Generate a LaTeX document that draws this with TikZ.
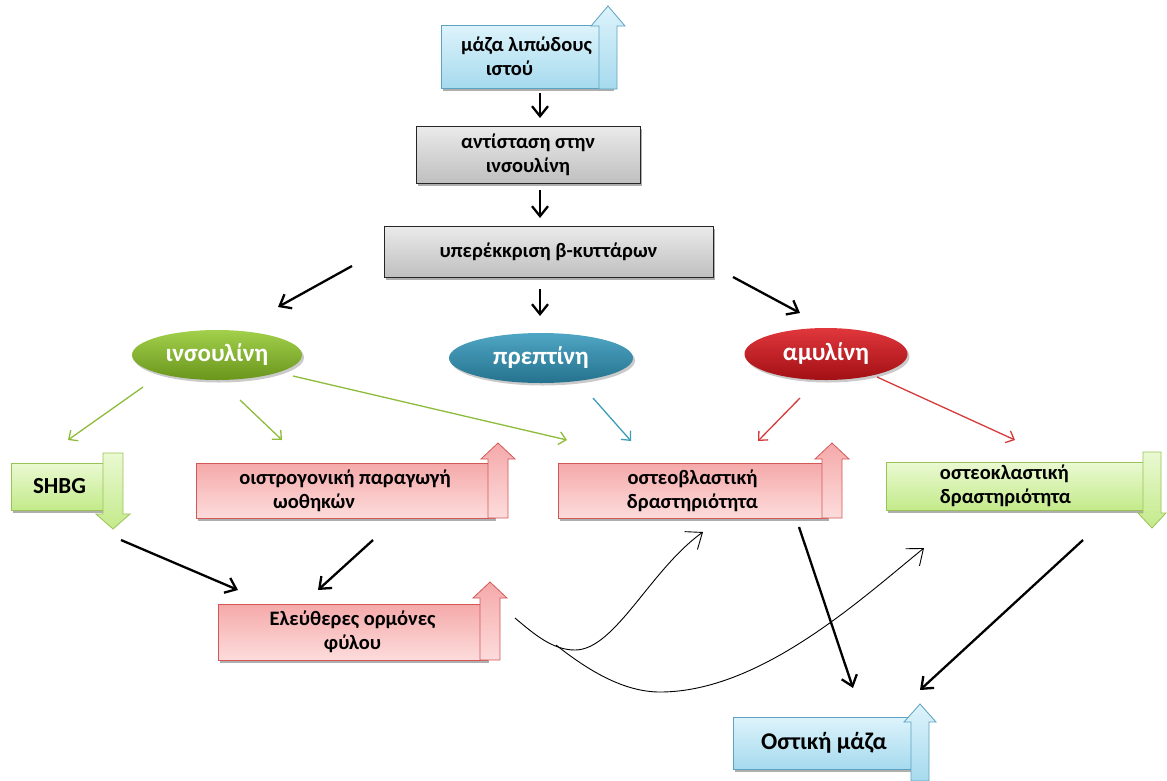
\documentclass[tikz,border=0pt]{standalone}
\usepackage{fontspec}
\setmainfont{Carlito}
\usetikzlibrary{arrows.meta,shadows,shapes.geometric,calc}

\definecolor{bluetop}{HTML}{DDF3FB}
\definecolor{bluebot}{HTML}{A6DAEE}
\definecolor{blueedge}{HTML}{5BA3C0}
\definecolor{pinktop}{HTML}{F5A9A9}
\definecolor{pinkbot}{HTML}{FDDCDC}
\definecolor{pinkedge}{HTML}{D25858}
\definecolor{greentop}{HTML}{EAF9D2}
\definecolor{greenbot}{HTML}{C3EA8A}
\definecolor{greenedge}{HTML}{98C455}
\definecolor{insgreen}{HTML}{7CB020}
\definecolor{insgreentop}{HTML}{A2D04C}
\definecolor{tealc}{HTML}{2B86A6}
\definecolor{tealtop}{HTML}{4FA6C4}
\definecolor{redc}{HTML}{BE1218}
\definecolor{redtop}{HTML}{E0373C}
\definecolor{arrgreen}{HTML}{8DBB3A}
\definecolor{arrteal}{HTML}{3E9DB8}
\definecolor{arrred}{HTML}{D63A3A}

\tikzset{
  boxbase/.style={rectangle, draw, line width=0.8pt, align=center, inner sep=0pt,
    font=\bfseries\fontsize{20.5}{24}\selectfont,
    drop shadow={shadow xshift=2pt, shadow yshift=-2.5pt, opacity=0.45, fill=black!70}},
  bluebox/.style={boxbase, top color=bluetop, bottom color=bluebot, draw=blueedge},
  graybox/.style={boxbase, top color=white!92!black, bottom color=black!25, draw=black!85},
  pinkbox/.style={boxbase, top color=pinktop, bottom color=pinkbot, draw=pinkedge},
  greenbox/.style={boxbase, top color=greentop, bottom color=greenbot, draw=greenedge},
  hormone/.style={ellipse, inner sep=0pt, text=white,
    font=\bfseries\fontsize{25}{28}\selectfont,
    drop shadow={shadow xshift=2pt, shadow yshift=-2.5pt, opacity=0.35, fill=black!60}},
  bluearr/.style={top color=bluetop, bottom color=bluebot, draw=blueedge, line width=0.8pt},
  pinkarr/.style={top color=pinktop, bottom color=pinkbot, draw=pinkedge, line width=0.8pt},
  greenarr/.style={top color=greentop, bottom color=greenbot, draw=greenedge, line width=0.8pt},
  flow/.style={line width=2.3pt, -{Straight Barb[length=10pt,width=16pt,line width=2.3pt]}},
  effect/.style={line width=1.3pt, -{Straight Barb[length=7pt,width=13pt,line width=1.3pt]}},
  thin/.style={line width=0.9pt, -{Straight Barb[length=14pt,width=22pt,line width=0.9pt]}}
}

% block arrows: centre x, base y, tip y, half shaft, half head, head length, style
\newcommand\blkup[7]{%
  \path[#7] ({#1-#4},{#2}) -- ({#1-#4},{#3+#6}) -- ({#1-#5},{#3+#6}) -- ({#1},{#3})
    -- ({#1+#5},{#3+#6}) -- ({#1+#4},{#3+#6}) -- ({#1+#4},{#2}) -- cycle;}
\newcommand\blkdown[7]{%
  \path[#7] ({#1-#4},{#2}) -- ({#1-#4},{#3-#6}) -- ({#1-#5},{#3-#6}) -- ({#1},{#3})
    -- ({#1+#5},{#3-#6}) -- ({#1+#4},{#3-#6}) -- ({#1+#4},{#2}) -- cycle;}

\begin{document}
\begin{tikzpicture}[x=1pt,y=-1pt]
\useasboundingbox (0,0) rectangle (1167,780);

% top chain
\node[bluebox, minimum width=171pt, minimum height=63pt] (fat) at (526.5,56.5)
  {μάζα λιπώδους\\\hspace*{-34pt}ιστού};
\blkup{608}{89}{6}{9}{17}{20}{bluearr}
\node[graybox, minimum width=224pt, minimum height=57pt] (resist) at (528,154.5)
  {αντίσταση στην\\ινσουλίνη};
\node[graybox, minimum width=329pt, minimum height=51pt] (hyper) at (548.5,251.5)
  {υπερέκκριση β-κυττάρων};

% hormones
\node[hormone, minimum width=170pt, minimum height=50pt,
  top color=insgreentop, bottom color=insgreen!85!black] (ins) at (217,355) {ινσουλίνη};
\node[hormone, minimum width=184pt, minimum height=50pt,
  top color=tealtop, bottom color=tealc!85!black] (prep) at (541,358) {πρεπτίνη};
\node[hormone, minimum width=163pt, minimum height=52pt,
  top color=redtop, bottom color=redc!85!black] (amyl) at (826,354) {αμυλίνη};

% effects
\node[greenbox, minimum width=97pt, minimum height=47pt,
  font=\bfseries\fontsize{23}{26}\selectfont] (shbg) at (59.5,486.5) {SHBG};
\blkdown{113}{453}{529}{10}{17}{15}{greenarr}
\node[pinkbox, minimum width=298pt, minimum height=55pt] (estro) at (345,490.5)
  {οιστρογονική παραγωγή\\\hspace*{-62pt}ωοθηκών};
\blkup{498}{518}{443}{10}{17}{16}{pinkarr}
\node[pinkbox, minimum width=269pt, minimum height=55pt] (oblast) at (692.5,490.5)
  {οστεοβλαστική\\δραστηριότητα};
\blkup{832}{518}{443}{10}{17}{16}{pinkarr}
\node[greenbox, minimum width=261pt, minimum height=47pt] (oclast) at (1016.5,486.5)
  {\hspace*{-22pt}\begin{tabular}{@{}l@{}}οστεοκλαστική\\δραστηριότητα\end{tabular}};
\blkdown{1152}{452}{528}{9}{14}{15}{greenarr}
\node[pinkbox, minimum width=269pt, minimum height=56pt] (free) at (352.5,632)
  {Ελεύθερες ορμόνες\\φύλου};
\blkup{490}{660}{582}{10}{17}{16}{pinkarr}
\node[bluebox, minimum width=182pt, minimum height=52pt, font=\bfseries\fontsize{24}{27}\selectfont]
  (bone) at (824,743) {Οστική μάζα};
\blkup{920}{781}{704}{9}{16}{18}{bluearr}

% main flow
\draw[flow] ($(fat.center)+(13.5,36.5)$) -- ($(resist.center)+(12,-36.5)$);
\draw[flow] ($(resist.center)+(12,35.5)$) -- ($(hyper.center)+(-8.5,-33.5)$);
\draw[flow] ($(hyper.center)+(-196.5,14.5)$) -- ($(ins.center)+(61,-48)$);
\draw[flow] ($(hyper.center)+(-8.5,37.5)$) -- ($(prep.center)+(-1,-42)$);
\draw[flow] ($(hyper.center)+(184.5,25.5)$) -- ($(amyl.center)+(-26,-41)$);

% hormone effects
\draw[effect, arrgreen] ($(ins.center)+(-74,32)$) -- ($(shbg.center)+(8.5,-46.5)$);
\draw[effect, arrgreen] ($(ins.center)+(23,45)$) -- ($(estro.center)+(-63,-50.5)$);
\draw[effect, arrgreen] ($(ins.center)+(76,21)$) -- ($(oblast.center)+(-125.5,-50.5)$);
\draw[effect, arrteal] ($(prep.center)+(52,40)$) -- ($(oblast.center)+(-61.5,-49.5)$);
\draw[effect, arrred] ($(amyl.center)+(-26,44)$) -- ($(oblast.center)+(65.5,-49.5)$);
\draw[effect, arrred] ($(amyl.center)+(51,23)$) -- ($(oclast.center)+(-1.5,-46.5)$);

% towards free sex hormones and bone mass
\draw[flow] ($(shbg.center)+(61.5,53.5)$) -- ($(free.center)+(-114.5,-42)$);
\draw[flow] ($(estro.center)+(28,49.5)$) -- ($(free.center)+(-34.5,-42)$);
\draw[flow] ($(oblast.center)+(106.5,36.5)$) -- ($(bone.center)+(29,-55)$);
\draw[flow] ($(oclast.center)+(66.5,53.5)$) -- ($(bone.center)+(96,-53)$);

% actions of the free sex hormones
\draw[thin] ($(free.center)+(162.5,-14)$) .. controls (535,635) and (553,650) ..
  (575,650) .. controls (615,650) and (650,570) .. ($(oblast.center)+(10.5,41.5)$);
\draw[thin] ($(free.center)+(203.5,13)$) .. controls (590,672) and (625,692) ..
  (660,692) .. controls (760,692) and (860,600) .. ($(oclast.center)+(-92.5,61.5)$);
\end{tikzpicture}
\end{document}
